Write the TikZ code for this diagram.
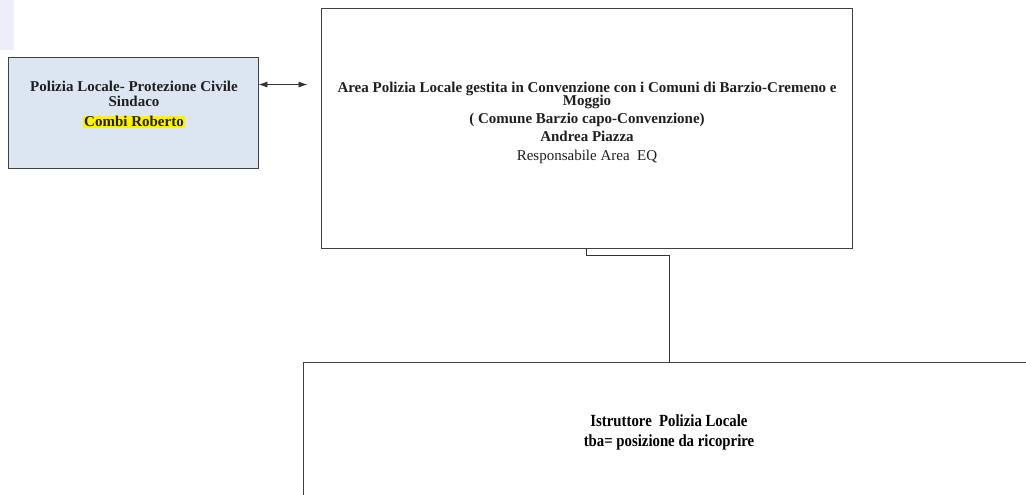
\documentclass[tikz,border=0pt]{standalone}
\usepackage{fontspec}
\setmainfont{Liberation Serif}
\usetikzlibrary{calc,arrows.meta}
\definecolor{boxblue}{HTML}{DCE6F2}
\definecolor{lavender}{HTML}{EEEEF8}
\newcommand{\tightskip}{\lineskiplimit -20pt\relax}
\begin{document}
\begin{tikzpicture}[x=1pt, y=-1pt,
		orgbox/.style={draw=black!75, line width=0.9pt, rectangle, inner sep=0pt},
		orgtext/.style={align=center, text=black!88, font={\bfseries\fontsize{15}{15}\selectfont\tightskip}},
		link/.style={line width=0.8pt, black!80, >={Latex[length=9pt, width=6pt]}}]
			%%%%% START %%%%%
			
			\clip (0, 0) rectangle (1026, 495);
			\fill[white] (0, 0) rectangle (1026, 495);
			\fill[lavender] (0, 0) rectangle (14, 50);
			
			\node[orgbox, fill=boxblue, minimum width=250, minimum height=111] (sindaco) at (133, 112.5) {};
			\node[orgtext] (sindacotxt) at (134, 104.5) {Polizia Locale- Protezione Civile\\Sindaco\\[5pt]{\setlength{\fboxsep}{0.8pt}\colorbox{yellow}{Combi Roberto}}};
			
			\node[orgbox, minimum width=531, minimum height=240] (area) at (586.5, 128) {};
			\node[orgtext, font={\bfseries\fontsize{15}{13}\selectfont\tightskip}] (areatxt) at (587, 123) {Area Polizia Locale gestita in Convenzione con i Comuni di Barzio-Cremeno e\\Moggio\\[5pt]( Comune Barzio capo-Convenzione)\\[5pt]Andrea Piazza\\[6pt]{\mdseries Responsabile Area\ \ EQ}};
			
			\node[orgbox, minimum width=732, minimum height=136] (istr) at (669, 430) {};
			\node[orgtext, text=black, font={\bfseries\fontsize{17}{20}\selectfont}] (istrtxt) at (669, 432.5) {\scalebox{0.87}[1]{Istruttore\ \ Polizia Locale}\\\scalebox{0.87}[1]{tba= posizione da ricoprire}};
			
			\coordinate (pstart) at ($(sindaco.north east)!0.25!(sindaco.south east)$);
			\draw[link, <->] (pstart) -- ($(pstart -| area.west)+(-13, 0)$);
			\draw[link] (area.south) -- ++(0, 7) -| (istr.north);
			
			%%%%% END %%%%%
		\end{tikzpicture}
\end{document}
